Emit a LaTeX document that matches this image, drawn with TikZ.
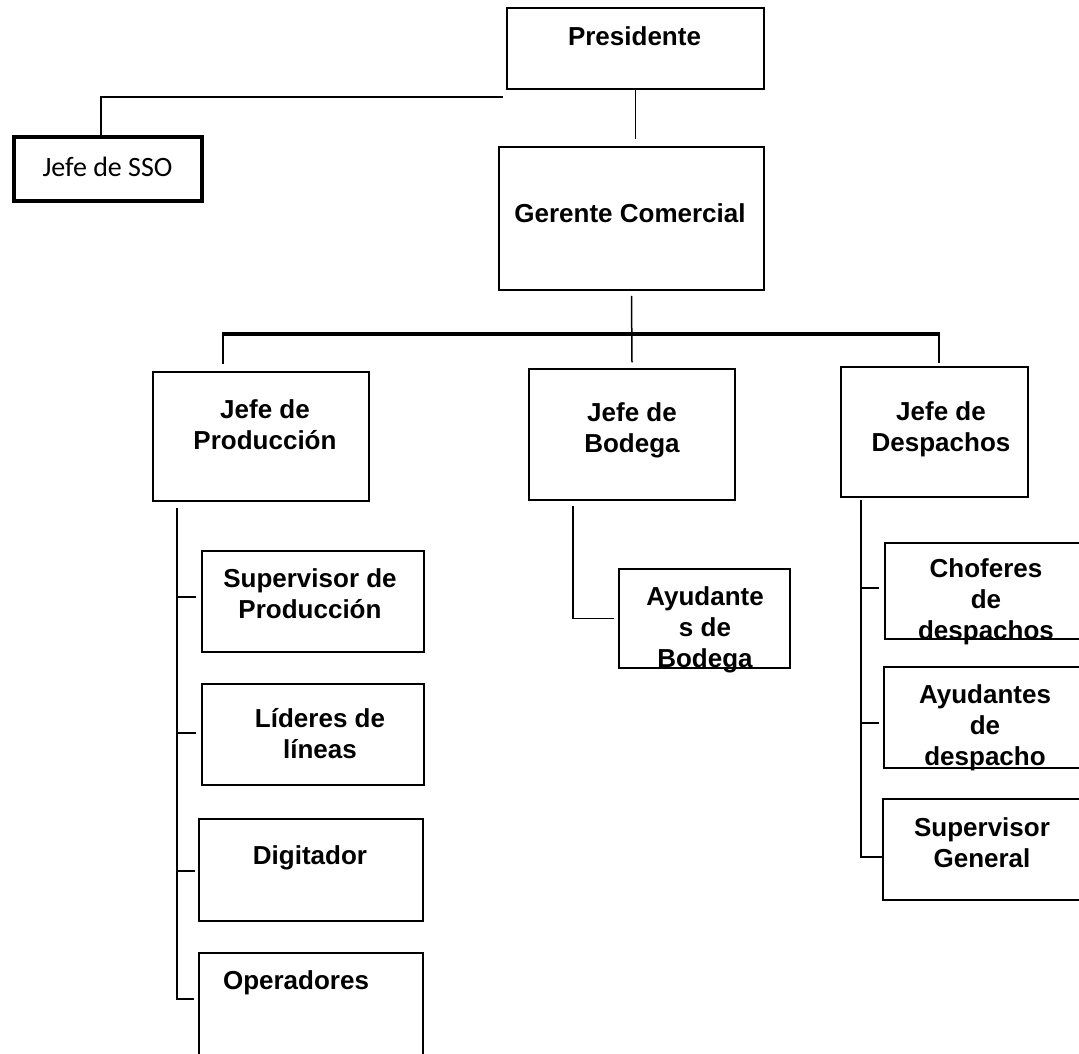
\documentclass[tikz,border=0pt]{standalone}
\usepackage{fontspec}
\setmainfont{Liberation Sans}
\newfontfamily\plainlabel{Carlito}

% a rectangle given by its left, top, right and bottom edges
\newcommand\orgbox[6][]{%
  \node[box,#1,minimum width={#5-#3},minimum height={#6-#4}]
    (#2) at ({(#3+#5)/2},{(#4+#6)/2}) {};}

\begin{document}
\begin{tikzpicture}[x=1pt,y=-1pt,
  box/.style={draw=black,line width=1.5pt,fill=white,inner sep=0pt,rectangle},
  heavybox/.style={line width=4.5pt},
  title/.style={font=\fontsize{26}{31}\selectfont\bfseries,align=center,inner sep=0pt},
  plaintitle/.style={font=\plainlabel\fontsize{28}{33}\selectfont,align=center,inner sep=0pt},
  link/.style={draw=black,line width=1.5pt},
  drop/.style={draw=black,line width=2.4pt},
  bus/.style={draw=black,line width=3.6pt}]

\clip (0,0) rectangle (1079,1053);
\fill[white] (0,0) rectangle (1079,1053);

% ---- boxes ----
\orgbox{pres}{507}{8}{764}{89}
\orgbox[heavybox]{sso}{14}{137}{202}{201}
\orgbox{ger}{499}{147}{764}{290}
\orgbox{jprod}{153}{372}{369}{501}
\orgbox{jbod}{529}{369}{735}{500}
\orgbox{jdes}{841}{367}{1028}{497}
\orgbox{sup}{202}{551}{424}{652}
\orgbox{lid}{202}{684}{424}{785}
\orgbox{dig}{199}{819}{423}{921}
\orgbox{ope}{199}{953}{423}{1075}
\orgbox{ayb}{619}{569}{790}{668}
\orgbox{cho}{885}{543}{1100}{639}
\orgbox{ayd}{884}{667}{1100}{768}
\orgbox{sg}{883}{799}{1100}{900}

% ---- labels ----
\node[title] (pres-t) at (634.5,36) {Presidente};
\node[plaintitle] (sso-t) at (107.5,167) {Jefe de SSO};
\node[title] (ger-t) at (630,213) {Gerente Comercial};
\node[title] (jprod-t) at (265,425) {Jefe de\\Producción};
\node[title] (jbod-t) at (632,430) {Jefe de\\Bodega};
\node[title] (jdes-t) at (941,429) {Jefe de\\Despachos};
\node[title] (sup-t) at (310,594) {Supervisor de\\Producción};
\node[title] (lid-t) at (320,734) {Líderes de\\líneas};
\node[title] (dig-t) at (310,858) {Digitador};
\node[title] (ope-t) at (296,983) {Operadores};
\node[title] (ayb-t) at (705,630) {Ayudante\\s de\\Bodega};
\node[title] (cho-t) at (986,602) {Choferes\\de\\despachos};
\node[title] (ayd-t) at (985,728) {Ayudantes\\de\\despacho};
\node[title] (sg-t) at (982,842.5) {Supervisor\\General};

% ---- connectors ----
% staff line to Jefe de SSO
\coordinate (ssoFeed) at (503,97);
\draw[link] (ssoFeed) -| ([xshift=-7pt]sso.north);
% Presidente down towards Gerente Comercial
\draw[link] (pres.south) -- ++(0,49);
% Gerente Comercial down through the bus towards Jefe de Bodega
\draw[link] ([yshift=-5pt]ger.south) -- ([yshift=6pt]jbod.north);
% bus with drops to the outer heads
\coordinate (busL) at (223,334);
\coordinate (busR) at (939,334);
\draw[drop] (busL) -- ++(0,30);
\draw[drop] (busR) -- ++(0,29);
\draw[bus] ([xshift=-1.2pt]busL) -- ([xshift=1.2pt]busR);

% production column
\coordinate (pTop) at (177,508);
\coordinate (pBot) at (177,999);
\draw[link] (pTop) -- (pBot) -- ++(17,0);
\draw[link] ([yshift=4.5pt]sup.west -| pTop) -- ([xshift=-5pt,yshift=4.5pt]sup.west);
\draw[link] ([yshift=1.5pt]lid.west -| pTop) -- ([xshift=-5pt,yshift=1.5pt]lid.west);
\draw[link] ([yshift=-1pt]dig.west -| pTop) -- ([xshift=-3pt,yshift=-1pt]dig.west);

% warehouse column
\draw[link] ([xshift=-59pt,yshift=-5pt]jbod.south) |- ([xshift=-4pt]ayb.west);

% dispatch column
\coordinate (dTop) at (861,500);
\draw[link] (dTop) |- ([yshift=-7.5pt]sg.west);
\draw[link] ([yshift=3pt]cho.west -| dTop) -- ([xshift=-5pt,yshift=3pt]cho.west);
\draw[link] ([yshift=-5.5pt]ayd.west -| dTop) -- ([xshift=-4pt,yshift=-5.5pt]ayd.west);

\end{tikzpicture}
\end{document}
